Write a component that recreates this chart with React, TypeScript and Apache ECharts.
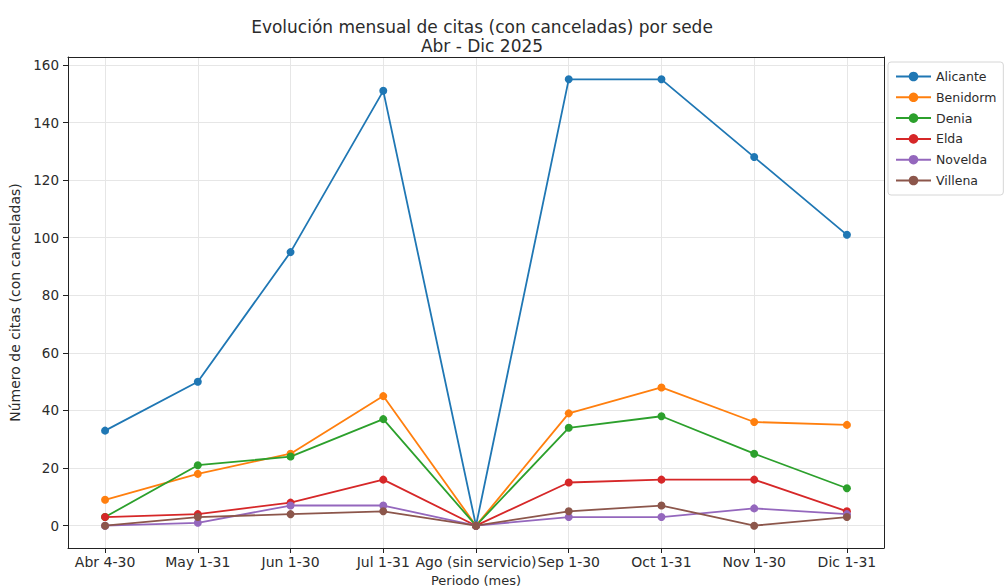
import React, { useEffect, useRef } from "react";
import * as echarts from "echarts";

const categories = ["Abr 4-30", "May 1-31", "Jun 1-30", "Jul 1-31", "Ago (sin servicio)", "Sep 1-30", "Oct 1-31", "Nov 1-30", "Dic 1-31"];
const alicante = [33, 50, 95, 151, 0, 155, 155, 128, 101];
const benidorm = [9, 18, 25, 45, 0, 39, 48, 36, 35];
const denia = [3, 21, 24, 37, 0, 34, 38, 25, 13];
const elda = [3, 4, 8, 16, 0, 15, 16, 16, 5];
const novelda = [0, 1, 7, 7, 0, 3, 3, 6, 4];
const villena = [0, 3, 4, 5, 0, 5, 7, 0, 3];
const yTicks = [0, 20, 40, 60, 80, 100, 120, 140, 160];

const seriesDefs = [
  { name: "Alicante", data: alicante, color: "#1f77b4" },
  { name: "Benidorm", data: benidorm, color: "#ff7f0e" },
  { name: "Denia", data: denia, color: "#2ca02c" },
  { name: "Elda", data: elda, color: "#d62728" },
  { name: "Novelda", data: novelda, color: "#9467bd" },
  { name: "Villena", data: villena, color: "#8c564b" },
];

const FONT = "DejaVu Sans";
const TEXT = "#2b2b2b";

export default function App() {
  const ref = useRef<HTMLDivElement>(null);
  useEffect(() => {
    if (!ref.current) return;
    const chart = echarts.init(ref.current, null, { renderer: "svg" });
    const xIdx = categories.map((_, i) => i);
    const maxV = Math.max(...alicante);
    const yMin = -maxV * 0.05;
    const yMax = maxV * 1.05;
    chart.setOption({
      animation: false,
      backgroundColor: "#ffffff",
      title: {
        text: "Evolución mensual de citas (con canceladas) por sede\nAbr - Dic 2025",
        left: 477,
        top: 12,
        textAlign: "center",
        textStyle: { fontFamily: FONT, fontSize: 17, fontWeight: "normal", color: TEXT, lineHeight: 19 },
      },
      legend: {
        orient: "vertical",
        left: 888,
        top: 62,
        itemGap: 7.8,
        itemWidth: 35,
        itemHeight: 12,
        padding: [8, 7, 8, 7],
        borderColor: "#d6d6d6",
        borderWidth: 1,
        borderRadius: 3,
        textStyle: { fontFamily: FONT, fontSize: 12.5, color: TEXT },
        data: seriesDefs.map((s) => s.name),
      },
      grid: { left: 68, right: 121, top: 57, bottom: 40, containLabel: false, outerBoundsMode: "none" },
      xAxis: [
        {
          type: "value",
          min: -0.4,
          max: categories.length - 1 + 0.4,
          name: "Periodo (mes)",
          nameLocation: "middle",
          nameGap: 20,
          nameTextStyle: { fontFamily: FONT, fontSize: 13, lineHeight: 14, color: TEXT },
          axisLine: { show: true, onZero: false, lineStyle: { color: "#222", width: 1 } },
          axisTick: { show: true, customValues: xIdx, length: 5, lineStyle: { color: "#222" } },
          axisLabel: {
            customValues: xIdx,
            formatter: (v: number) => categories[Math.round(v)] ?? "",
            fontFamily: FONT,
            fontSize: 14,
            color: TEXT,
            margin: 7,
            hideOverlap: false,
          },
          splitLine: { show: true, lineStyle: { color: "#e6e6e6", width: 1 } },
        },
        {
          type: "value",
          position: "top",
          min: -0.4,
          max: categories.length - 1 + 0.4,
          axisLine: { show: true, onZero: false, lineStyle: { color: "#222", width: 1 } },
          axisTick: { show: false },
          axisLabel: { show: false },
          splitLine: { show: false },
        },
      ],
      yAxis: [
        {
          type: "value",
          min: yMin,
          max: yMax,
          name: "Número de citas (con canceladas)",
          nameLocation: "middle",
          nameGap: 43,
          nameTextStyle: { fontFamily: FONT, fontSize: 14, color: TEXT },
          axisLine: { show: true, onZero: false, lineStyle: { color: "#222", width: 1 } },
          axisTick: { show: true, customValues: yTicks, length: 5, lineStyle: { color: "#222" } },
          axisLabel: { customValues: yTicks, fontFamily: FONT, fontSize: 13.5, color: TEXT, margin: 9 },
          splitLine: { show: true, lineStyle: { color: "#e6e6e6", width: 1 } },
        },
        {
          type: "value",
          position: "right",
          min: yMin,
          max: yMax,
          axisLine: { show: true, onZero: false, lineStyle: { color: "#222", width: 1 } },
          axisTick: { show: false },
          axisLabel: { show: false },
          splitLine: { show: false },
        },
      ],
      series: seriesDefs.map((s) => ({
        name: s.name,
        type: "line",
        xAxisIndex: 0,
        yAxisIndex: 0,
        data: s.data.map((v, i) => [i, v]),
        symbol: "circle",
        symbolSize: 8,
        color: s.color,
        lineStyle: { width: 1.8, color: s.color },
        itemStyle: { color: s.color },
      })),
    });
    return () => chart.dispose();
  }, []);
  return <div ref={ref} style={{ width: 1005, height: 588, position: "absolute", left: 0, top: 0 }} />;
}
